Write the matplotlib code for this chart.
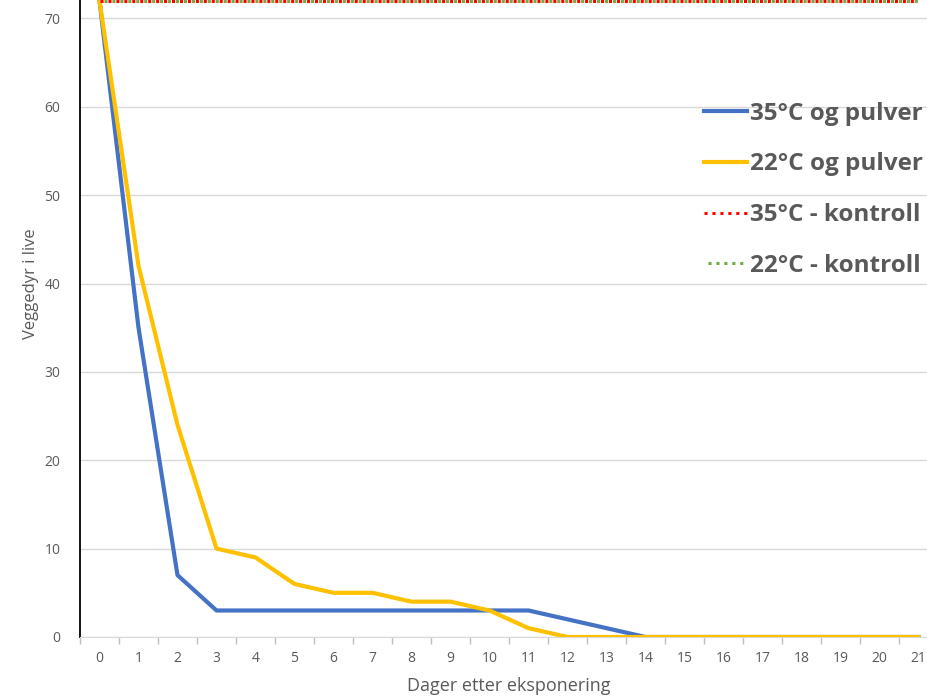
import numpy as np
import matplotlib
matplotlib.use('Agg')
import matplotlib.pyplot as plt
from matplotlib.ticker import MultipleLocator

plt.rcParams['font.family'] = ['Open Sans', 'DejaVu Sans']

# data
dager = list(range(22))
pulver_35 = [72, 35, 7, 3, 3, 3, 3, 3, 3, 3, 3, 3, 2, 1, 0, 0, 0, 0, 0, 0, 0, 0]
pulver_22 = [72, 42, 24, 10, 9, 6, 5, 5, 4, 4, 3, 1, 0, 0, 0, 0, 0, 0, 0, 0, 0, 0]
kontroll_35 = [72] * 22
kontroll_22 = [72] * 22
y_ticks = [0, 10, 20, 30, 40, 50, 60, 70]
labels = ['35°C og pulver', '22°C og pulver', '35°C - kontroll', '22°C - kontroll']

grey = '#595959'
fig = plt.figure(figsize=(9.28, 6.96), dpi=100)
# axes extend past the top/right edge (reference is cropped)
ax = fig.add_axes([80/928, 59/696, 858/928, 707/696])

ax.plot(dager, pulver_35, color='#4472C4', lw=3, label=labels[0], zorder=3)
ax.plot(dager, pulver_22, color='#FFC000', lw=3, label=labels[1], zorder=4)
ax.plot(dager, kontroll_35, color='#FF0000', lw=2.2, ls=(0, (1, 1.6)), label=labels[2], zorder=5)
ax.plot(dager, kontroll_22, color='#70AD47', lw=2.2, ls=(1.3, (1, 1.6)), label=labels[3], zorder=6)

ax.set_xlim(-0.5, 21.5)
ax.set_ylim(0, 80)
ax.set_xticks(dager)
ax.set_xticklabels([str(d) for d in dager])
ax.set_yticks(y_ticks)
ax.xaxis.set_minor_locator(MultipleLocator(1, offset=0.5))
ax.tick_params(axis='x', which='major', length=0, pad=10, labelsize=10, labelcolor=grey)
ax.tick_params(axis='x', which='minor', length=5, color='#bfbfbf', width=1)
ax.tick_params(axis='y', length=0, pad=14, labelsize=10, labelcolor=grey)

ax.grid(axis='y', color='#d9d9d9', lw=1)
ax.set_axisbelow(True)
for s in ['top', 'right']:
    ax.spines[s].set_visible(False)
ax.spines['bottom'].set_color('#d9d9d9')
ax.spines['left'].set_color('black')
ax.spines['left'].set_linewidth(1.3)

ax.set_xlabel('Dager etter eksponering', fontsize=13, color=grey, labelpad=8)
ax.set_ylabel('Veggedyr i live', fontsize=12, color=grey, labelpad=4)

leg = fig.legend(loc='upper right', bbox_to_anchor=(1.005, 0.868), frameon=False,
                 prop={'size': 17.5, 'weight': 'bold'}, labelspacing=1.1,
                 handlelength=1.75, handletextpad=0.12, borderaxespad=0)
for t in leg.get_texts():
    t.set_color(grey)

fig.savefig('out.png', dpi=100)
